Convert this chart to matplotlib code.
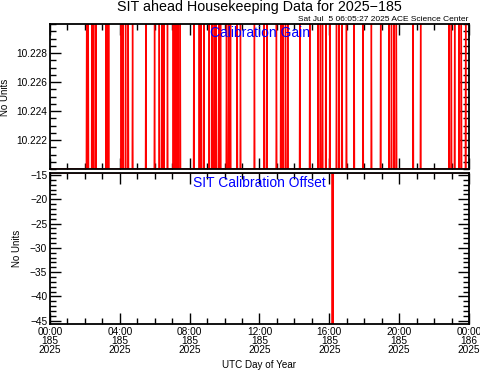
import numpy as np
import matplotlib
matplotlib.use("Agg")
import matplotlib.pyplot as plt
from matplotlib.ticker import MultipleLocator

plt.rcParams['font.family'] = ['Liberation Sans', 'DejaVu Sans']

# hours (UTC) of the short jumps in calibration gain
gain_spikes = [2.10, 2.19, 2.40, 2.50, 2.63, 3.21, 3.28, 3.36, 4.08, 4.18, 4.33, 4.48,
               4.73, 5.49, 5.99, 6.26, 6.41, 6.52, 6.73, 7.06, 7.14, 7.23, 7.33, 7.46,
               8.24, 8.55, 8.66, 8.81, 9.12, 9.29, 9.41, 9.52, 9.67, 9.77, 10.11, 10.23,
               10.34, 10.72, 10.91, 11.71, 12.27, 12.42, 12.97, 13.22, 13.34, 13.49, 13.62,
               14.31, 14.88, 15.36, 15.49, 15.61, 15.80, 16.03, 16.41, 16.56, 16.73, 16.98,
               17.42, 17.93, 18.41, 18.94, 19.42, 19.56, 19.71, 19.84, 20.80, 21.23, 22.86,
               22.99, 23.18, 23.43, 23.56, 23.81]
gain_low = 10.2200
gain_high = 10.2310

offset_time = [0.0, 16.17, 16.19, 16.21, 24.0]
offset_val = [-14.5, -14.5, -46.0, -14.5, -14.5]

tick_hours = [0, 4, 8, 12, 16, 20, 24]
tick_labels = ["00:00\n185\n2025", "04:00\n185\n2025", "08:00\n185\n2025",
               "12:00\n185\n2025", "16:00\n185\n2025", "20:00\n185\n2025",
               "00:00\n186\n2025"]

W, H = 481, 371


def step_series(spikes, low, high, dt=0.02):
    t = [0.0]
    v = [low]
    for s in spikes:
        t += [s - dt, s, s + dt]
        v += [low, high, low]
    t.append(24.0)
    v.append(low)
    return t, v


def style_axis(ax):
    for sp in ax.spines.values():
        sp.set_linewidth(1.3)
    ax.tick_params(which='both', direction='in', top=True, right=True,
                   labelsize=7.3, pad=2)
    ax.tick_params(which='major', length=8, width=1)
    ax.tick_params(which='minor', length=4, width=1)
    ax.set_xlim(0, 24)
    ax.xaxis.set_major_locator(MultipleLocator(4))
    ax.xaxis.set_minor_locator(MultipleLocator(1))


fig = plt.figure(figsize=(W / 100, H / 100), dpi=100)

ax1 = fig.add_axes([50 / W, 1 - 169 / H, 419 / W, 145 / H])
gt, gv = step_series(gain_spikes, gain_low, gain_high)
ax1.plot(gt, gv, color='red', lw=1)
style_axis(ax1)
ax1.set_ylim(10.220, 10.230)
ax1.yaxis.set_minor_locator(MultipleLocator(0.0005))
ax1.set_yticks([10.222, 10.224, 10.226, 10.228])
ax1.set_yticklabels(["10.222", "10.224", "10.226", "10.228"])
ax1.set_xticklabels([])
ax1.text(0.5, 0.938, "Calibration Gain", color='blue', fontsize=10,
         ha='center', va='center', transform=ax1.transAxes)

ax2 = fig.add_axes([50 / W, 1 - 324.3 / H, 419 / W, 151.8 / H])
ax2.plot(offset_time, offset_val, color='red', lw=1.5)
style_axis(ax2)
ax2.set_ylim(-45.75, -14.5)
ax2.yaxis.set_major_locator(MultipleLocator(5))
ax2.yaxis.set_minor_locator(MultipleLocator(1))
ax2.set_xticks(tick_hours)
ax2.set_xticklabels(tick_labels, linespacing=0.85)
ax2.text(0.5, 0.933, "SIT Calibration Offset", color='blue', fontsize=10,
         ha='center', va='center', transform=ax2.transAxes)

# axis labels placed in figure pixels
fig.text(5 / W, 1 - 97 / H, "No Units", fontsize=7, rotation=90,
         ha='center', va='center')
fig.text(16.5 / W, 1 - 248 / H, "No Units", fontsize=7, rotation=90,
         ha='center', va='center')
fig.text(259 / W, 1 - 365 / H, "UTC Day of Year", fontsize=7.1,
         ha='center', va='center')

fig.text(259 / W, 1 - 7.5 / H, "SIT ahead Housekeeping Data for 2025\u2212185",
         fontsize=10.3, ha='center', va='center')
fig.text(468.3 / W, 1 - 19.5 / H, "Sat Jul  5 06:05:27 2025 ACE Science Center",
         fontsize=6, ha='right', va='center')

fig.savefig("out.png", dpi=100)
